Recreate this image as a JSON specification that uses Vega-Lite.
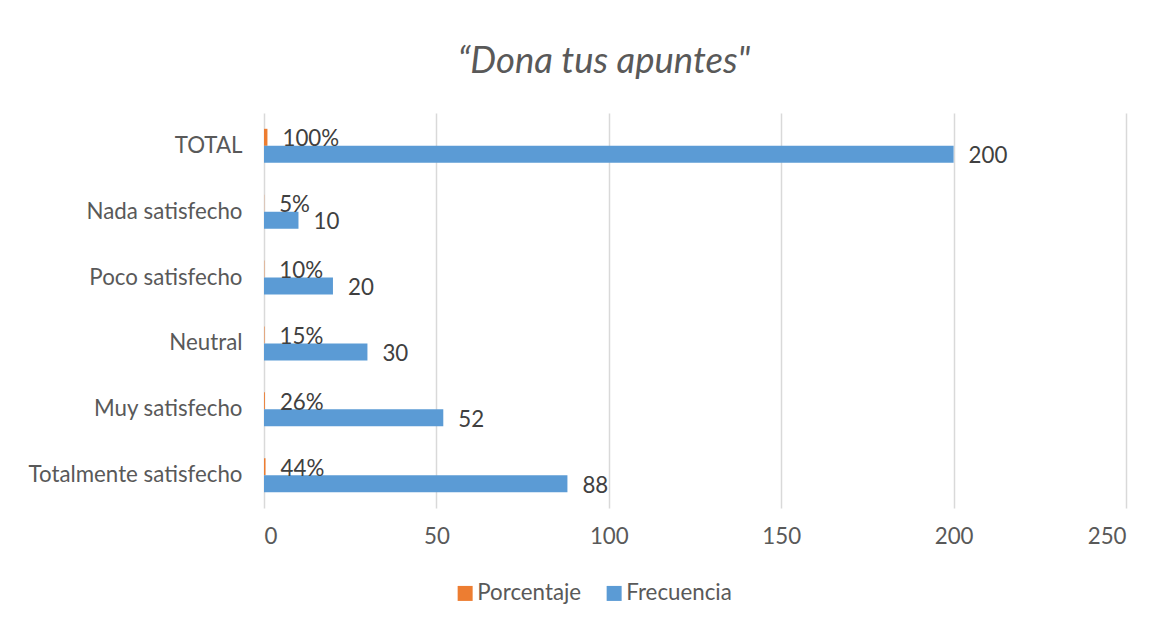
{
  "$schema": "https://vega.github.io/schema/vega-lite/v6.json",
  "width": 862,
  "height": 395,
  "autosize": "none",
  "padding": {"left": 264, "top": 113, "right": 35, "bottom": 114},
  "background": "white",
  "config": {"view": {"stroke": null}, "font": "Lato"},
  "title": {
    "text": "“Dona tus apuntes\"",
    "fontSize": 36.5,
    "fontStyle": "italic",
    "fontWeight": "normal",
    "color": "#595959",
    "anchor": "middle",
    "dx": -91,
    "offset": 33
  },
  "data": {
    "values": [
      {"categoria": "TOTAL", "serie": "Porcentaje", "valor": 1.0},
      {"categoria": "TOTAL", "serie": "Frecuencia", "valor": 200},
      {"categoria": "Nada satisfecho", "serie": "Porcentaje", "valor": 0.05},
      {"categoria": "Nada satisfecho", "serie": "Frecuencia", "valor": 10},
      {"categoria": "Poco satisfecho", "serie": "Porcentaje", "valor": 0.10},
      {"categoria": "Poco satisfecho", "serie": "Frecuencia", "valor": 20},
      {"categoria": "Neutral ", "serie": "Porcentaje", "valor": 0.15},
      {"categoria": "Neutral ", "serie": "Frecuencia", "valor": 30},
      {"categoria": "Muy satisfecho", "serie": "Porcentaje", "valor": 0.26},
      {"categoria": "Muy satisfecho", "serie": "Frecuencia", "valor": 52},
      {"categoria": "Totalmente satisfecho", "serie": "Porcentaje", "valor": 0.44},
      {"categoria": "Totalmente satisfecho", "serie": "Frecuencia", "valor": 88}
    ]
  },
  "encoding": {
    "y": {
      "field": "categoria",
      "type": "nominal",
      "sort": ["TOTAL", "Nada satisfecho", "Poco satisfecho", "Neutral ", "Muy satisfecho", "Totalmente satisfecho"],
      "scale": {"paddingInner": 0.483, "paddingOuter": 0.24},
      "axis": {
        "title": null,
        "domain": false,
        "ticks": false,
        "labelFontSize": 22.3,
        "labelColor": "#595959",
        "labelPadding": 22,
        "labelLimit": 400
      }
    },
    "yOffset": {
      "field": "serie",
      "type": "nominal",
      "sort": ["Porcentaje", "Frecuencia"],
      "scale": {"paddingInner": 0, "paddingOuter": 0}
    },
    "x": {
      "field": "valor",
      "type": "quantitative",
      "scale": {"domain": [0, 250], "nice": false},
      "axis": {
        "title": null,
        "values": [0, 50, 100, 150, 200, 250],
        "domain": false,
        "ticks": false,
        "grid": true,
        "gridColor": "#d9d9d9",
        "gridWidth": 1.5,
        "labelFontSize": 22.3,
        "labelColor": "#595959",
        "labelPadding": 17
      }
    }
  },
  "layer": [
    {
      "mark": {"type": "bar"},
      "encoding": {
        "color": {
          "field": "serie",
          "type": "nominal",
          "scale": {"domain": ["Porcentaje", "Frecuencia"], "range": ["#ED7D31", "#5B9BD5"]},
          "legend": {
            "title": null,
            "orient": "none",
            "legendX": 190,
            "legendY": 469,
            "padding": 0,
            "symbolOffset": 0,
            "direction": "horizontal",
            "symbolType": "square",
            "symbolSize": 225,
            "symbolStrokeWidth": 0,
            "labelFontSize": 22.3,
            "labelColor": "#595959",
            "labelOffset": 1,
            "columnPadding": 21
          }
        }
      }
    },
    {
      "transform": [{"filter": "datum.serie === 'Porcentaje'"}],
      "mark": {"type": "text", "align": "left", "baseline": "middle", "dx": 15, "dy": 2, "fontSize": 22.3, "color": "#404040"},
      "encoding": {"text": {"field": "valor", "type": "quantitative", "format": ".0%"}}
    },
    {
      "transform": [{"filter": "datum.serie === 'Frecuencia'"}],
      "mark": {"type": "text", "align": "left", "baseline": "middle", "dx": 15, "dy": 2, "fontSize": 22.3, "color": "#404040"},
      "encoding": {"text": {"field": "valor", "type": "quantitative", "format": "d"}}
    }
  ]
}
